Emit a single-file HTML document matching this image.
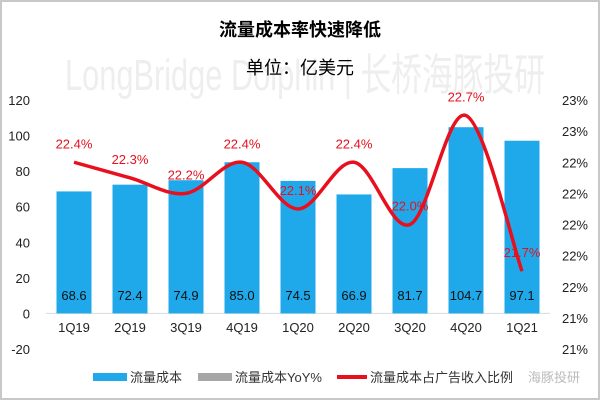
<!DOCTYPE html>
<html><head><meta charset="utf-8"><style>
body{margin:0;background:#fff}
svg text{font-family:"Liberation Sans","Noto Sans CJK SC",sans-serif}
</style></head><body>
<svg id="chart" width="600" height="400" viewBox="0 0 600 400">
<rect x="1" y="1" width="598" height="398" fill="#fff" stroke="#c8c8c8" stroke-width="2"/>
<text x="65" y="90" font-size="44" fill="#eeeeee" textLength="480" lengthAdjust="spacingAndGlyphs">LongBridge Dolphin | 长桥海豚投研</text>
<text x="300" y="36" font-size="18" font-weight="bold" text-anchor="middle" fill="#000">流量成本率快速降低</text>
<text x="300" y="74" font-size="18" text-anchor="middle" fill="#000">单位：亿美元</text>
<g id="plot"></g>
<g>
<rect x="93" y="373" width="34" height="8" fill="#1fa9ea"/>
<text x="130" y="382" font-size="13" fill="#333">流量成本</text>
<rect x="198" y="373" width="34" height="8" fill="#a6a6a6"/>
<text x="235" y="382" font-size="13" fill="#333">流量成本YoY%</text>
<rect x="337" y="375" width="30" height="4" fill="#e8101e"/>
<text x="370" y="382" font-size="13" fill="#333">流量成本占广告收入比例</text>
<text x="528" y="382" font-size="13" fill="#bbb">海豚投研</text>
</g>
</svg>
<script>
const categories=["1Q19","2Q19","3Q19","4Q19","1Q20","2Q20","3Q20","4Q20","1Q21"];
const costValues=[68.6,72.4,74.9,85.0,74.5,66.9,81.7,104.7,97.1];
const ratioValues=[22.4,22.3,22.2,22.4,22.1,22.4,22.0,22.7,21.7];
const leftTicks=[120,100,80,60,40,20,0,-20];
const rightTicks=[22.8,22.6,22.4,22.2,22.0,21.8,21.6,21.4,21.2];
const NS="http://www.w3.org/2000/svg";
const g=document.getElementById('plot');
const x0=46,x1=550,yTop=100,yBot=349;
const band=(x1-x0)/categories.length;
const xc=i=>x0+band*(i+0.5);
const yL=v=>yTop+(120-v)/140*(yBot-yTop);
const yR=v=>yTop+(22.8-v)/1.6*(yBot-yTop);
function mk(t,a,txt){const e=document.createElementNS(NS,t);for(const k in a)e.setAttribute(k,a[k]);if(txt!=null)e.textContent=txt;g.appendChild(e);return e;}
leftTicks.forEach(v=>{const e=mk('text',{x:30,y:yL(v)+5,'font-size':13,'text-anchor':'end',fill:'#222'},v);

});
rightTicks.forEach(v=>{const e=mk('text',{x:588,y:yR(v)+5,'font-size':13,'text-anchor':'end',fill:'#222'},Math.round(v)+'%');

});
const zl=mk('line',{x1:x0,x2:x1,y1:yL(0),y2:yL(0),stroke:'#d9d9d9','stroke-width':1});


categories.forEach((c,i)=>{
 const bw=35;
 const b=mk('rect',{x:xc(i)-bw/2,y:yL(costValues[i]),width:bw,height:yL(0)-yL(costValues[i]),fill:'#1fa9ea'});
 
 
 const t=mk('text',{x:xc(i),y:300,'font-size':13,'text-anchor':'middle',fill:'#111'},costValues[i].toFixed(1));
 
 
 const l=mk('text',{x:xc(i),y:332,'font-size':13,'text-anchor':'middle',fill:'#222'},c);
 
 
});
const pts=ratioValues.map((v,i)=>[xc(i),yR(v)]);
let d='M'+pts[0][0]+','+pts[0][1];
for(let i=0;i<pts.length-1;i++){
 const p0=pts[Math.max(0,i-1)],p1=pts[i],p2=pts[i+1],p3=pts[Math.min(pts.length-1,i+2)];
 const c1=[p1[0]+(p2[0]-p0[0])/6,p1[1]+(p2[1]-p0[1])/6];
 const c2=[p2[0]-(p3[0]-p1[0])/6,p2[1]-(p3[1]-p1[1])/6];
 d+=' C'+c1+' '+c2+' '+p2;
}
const ln=mk('path',{d:d,fill:'none',stroke:'#e8101e','stroke-width':3.5});


ratioValues.forEach((v,i)=>{
 const t=mk('text',{x:xc(i),y:yR(v)-14,'font-size':13,'text-anchor':'middle',fill:'#e8101e'},v.toFixed(1)+'%');
 
 
});
</script>
</body></html>
